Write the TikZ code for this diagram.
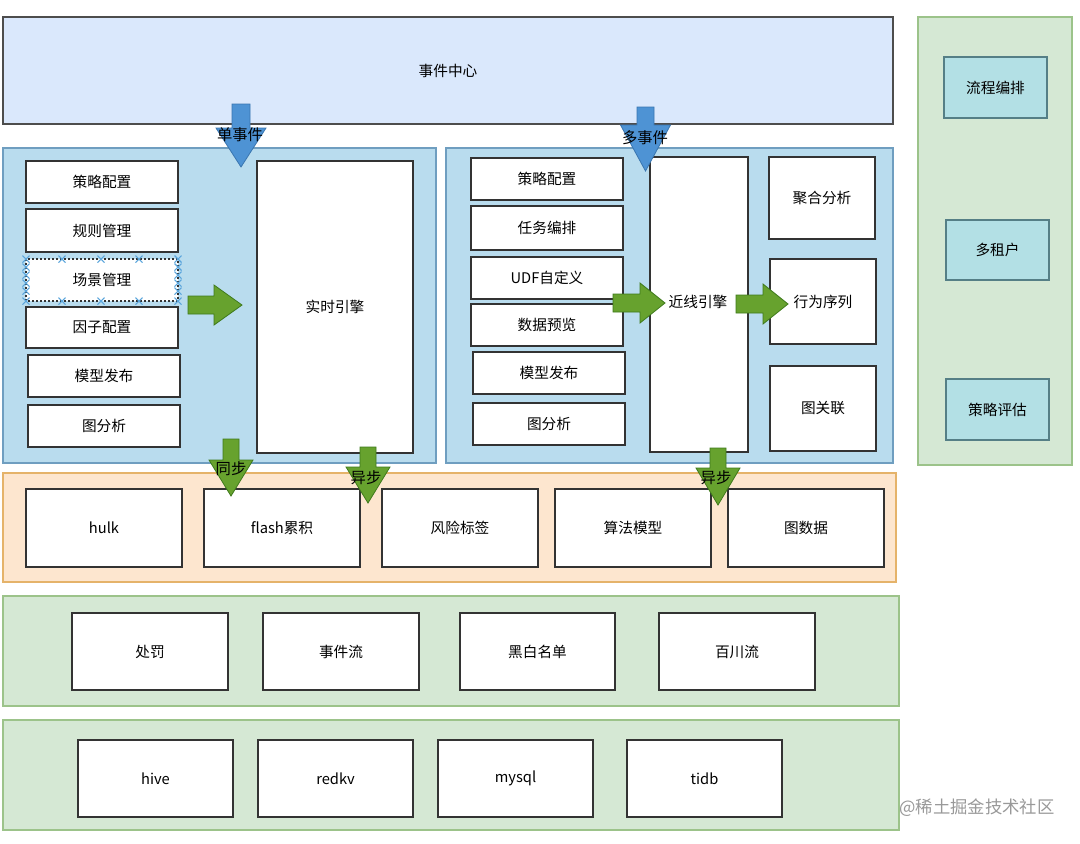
\documentclass[tikz,border=0pt]{standalone}
\usepackage{fontspec}
\setmainfont{Noto Sans CJK SC}
\usetikzlibrary{calc}
\definecolor{topfill}{HTML}{DAE8FC}
\definecolor{topline}{HTML}{4D4D4D}
\definecolor{bluefill}{HTML}{B9DCEE}
\definecolor{blueline}{HTML}{6F9EC0}
\definecolor{orfill}{HTML}{FDE6CF}
\definecolor{orline}{HTML}{E5B36A}
\definecolor{grfill}{HTML}{D5E8D4}
\definecolor{grline}{HTML}{9CC38A}
\definecolor{tealfill}{HTML}{B3E0E5}
\definecolor{tealline}{HTML}{557F86}
\definecolor{boxline}{HTML}{333333}
\definecolor{garrfill}{HTML}{67A22E}
\definecolor{garrline}{HTML}{3E7A1C}
\definecolor{barrfill}{HTML}{4E93D4}
\definecolor{barrline}{HTML}{3A76B0}
\definecolor{selblue}{HTML}{5AA5DC}
\newcommand\bnode[7]{\node[#1, minimum width={(#5-#3)*0.75pt}, minimum height={(#6-#4)*0.75pt}] (#2) at ({(#3+#5)/2},{(#4+#6)/2}) {#7};}
\newcommand\darrow[7]{\filldraw[#7] ({#1-#2},#3) -- ({#1+#2},#3) -- ({#1+#2},#4) -- ({#1+#5},#4) -- (#1,#6) -- ({#1-#5},#4) -- ({#1-#2},#4) -- cycle;}
\newcommand\rarrow[7]{\filldraw[#7] (#1,{#4-#5}) -- (#2,{#4-#5}) -- (#2,{#4-#6}) -- (#3,#4) -- (#2,{#4+#6}) -- (#2,{#4+#5}) -- (#1,{#4+#5}) -- cycle;}
\newcommand\selx[2]{\draw[selblue, line width=0.8pt] ({#1-3.5},{#2-3.5}) -- ({#1+3.5},{#2+3.5}) ({#1-3.5},{#2+3.5}) -- ({#1+3.5},{#2-3.5});}
\tikzset{
  txt/.style={font=\fontsize{11}{13}\selectfont, text=black},
  panel/.style={draw, line width=0.9pt, inner sep=0pt, outer sep=0pt},
  wbox/.style={draw=boxline, fill=white, line width=0.9pt, inner sep=0pt, outer sep=0pt, txt},
  tbox/.style={draw=tealline, fill=tealfill, line width=0.9pt, inner sep=0pt, outer sep=0pt, txt},
  garrow/.style={fill=garrfill, draw=garrline, line width=0.6pt},
  barrow/.style={fill=barrfill, draw=barrline, line width=0.6pt},
  alabel/.style={font=\fontsize{11.5}{13}\selectfont, text=black, inner sep=0pt},
}
\begin{document}
\begin{tikzpicture}[x=0.75pt,y=-0.75pt]
\useasboundingbox (0,0) rectangle (1080,843);
\fill[white] (0,0) rectangle (1080,843);
% panels
\bnode{panel, draw=topline, fill=topfill, txt}{center}{3}{17}{893}{124}{事件中心}
\bnode{panel, draw=blueline, fill=bluefill}{leftp}{3}{148}{436}{463}{}
\bnode{panel, draw=blueline, fill=bluefill}{rightp}{446}{148}{893}{463}{}
\bnode{panel, draw=orline, fill=orfill}{orp}{3}{473}{896}{582}{}
\bnode{panel, draw=grline, fill=grfill}{grp1}{3}{596}{899}{706}{}
\bnode{panel, draw=grline, fill=grfill}{grp2}{3}{720}{899}{830}{}
\bnode{panel, draw=grline, fill=grfill}{sidep}{918}{17}{1072}{465}{}
% left panel boxes
\bnode{wbox}{l1}{26}{161}{178}{203}{策略配置}
\bnode{wbox}{l2}{26}{209}{178}{252}{规则管理}
\bnode{wbox, draw=none}{l3}{26}{259}{178}{301}{场景管理}
\draw[boxline, line width=0.9pt, dash pattern=on 1.5pt off 1.5pt] (26,259) rectangle (178,301);
\foreach \xx in {26,62,101,139,178}{\selx{\xx}{259}\selx{\xx}{301}}
\foreach \yy in {267,275,283,291}{\selx{26}{\yy}\selx{178}{\yy}}
\bnode{wbox}{l4}{26}{307}{178}{348}{因子配置}
\bnode{wbox}{l5}{28}{355}{180}{397}{模型发布}
\bnode{wbox}{l6}{28}{405}{180}{447}{图分析}
\bnode{wbox}{rt}{257}{161}{413}{453}{实时引擎}
% right panel boxes
\bnode{wbox}{r1}{471}{158}{623}{200}{策略配置}
\bnode{wbox}{r2}{471}{206}{623}{250}{任务编排}
\bnode{wbox}{r3}{471}{257}{623}{299}{UDF自定义}
\bnode{wbox}{r4}{471}{304}{623}{346}{数据预览}
\bnode{wbox}{r5}{473}{352}{625}{394}{模型发布}
\bnode{wbox}{r6}{473}{403}{625}{445}{图分析}
\bnode{wbox}{nl}{650}{157}{748}{452}{}
\node[txt, inner sep=0pt] (nltxt) at (698,302) {近线引擎};
\bnode{wbox}{a1}{769}{157}{875}{239}{聚合分析}
\bnode{wbox}{a2}{770}{259}{876}{344}{行为序列}
\bnode{wbox}{a3}{770}{366}{876}{451}{图关联}
% orange row
\bnode{wbox}{o1}{26}{489}{182}{567}{hulk}
\bnode{wbox}{o2}{204}{489}{360}{567}{flash累积}
\bnode{wbox}{o3}{382}{489}{538}{567}{风险标签}
\bnode{wbox}{o4}{555}{489}{711}{567}{算法模型}
\bnode{wbox}{o5}{728}{489}{884}{567}{图数据}
% green rows
\bnode{wbox}{g1}{72}{613}{228}{690}{处罚}
\bnode{wbox}{g2}{263}{613}{419}{690}{事件流}
\bnode{wbox}{g3}{460}{613}{615}{690}{黑白名单}
\bnode{wbox}{g4}{659}{613}{815}{690}{百川流}
\bnode{wbox}{h1}{78}{740}{233}{817}{hive}
\bnode{wbox}{h2}{258}{740}{413}{817}{redkv}
\bnode{wbox}{h3}{438}{740}{593}{817}{mysql}
\bnode{wbox}{h4}{627}{740}{782}{817}{tidb}
% side boxes
\bnode{tbox}{s1}{944}{57}{1047}{118}{流程编排}
\bnode{tbox}{s2}{946}{220}{1049}{280}{多租户}
\bnode{tbox}{s3}{946}{379}{1049}{440}{策略评估}
% block arrows
\darrow{241}{9}{104}{128}{25}{167}{barrow}
\node[alabel] (lab1) at (240,135) {单事件};
\darrow{645.5}{8.5}{107}{125}{25}{171}{barrow}
\node[alabel] (lab2) at (645,138) {多事件};
\rarrow{188}{214}{242}{305}{9}{20}{garrow}
\rarrow{613}{640}{665}{303}{9}{20}{garrow}
\rarrow{736}{763}{788}{304}{9}{20}{garrow}
\darrow{231}{8}{439}{460}{22}{496}{garrow}
\node[alabel] (lab3) at (231,469) {同步};
\darrow{368}{8}{447}{467}{22}{503}{garrow}
\node[alabel] (lab4) at (366,478) {异步};
\darrow{718}{8}{448}{468}{22}{505}{garrow}
\node[alabel] (lab5) at (716,478) {异步};
% watermark
\node[font=\fontsize{13}{15}\selectfont, text=black!40, inner sep=0pt] (wm) at (977,808) {@稀土掘金技术社区};
\end{tikzpicture}
\end{document}
